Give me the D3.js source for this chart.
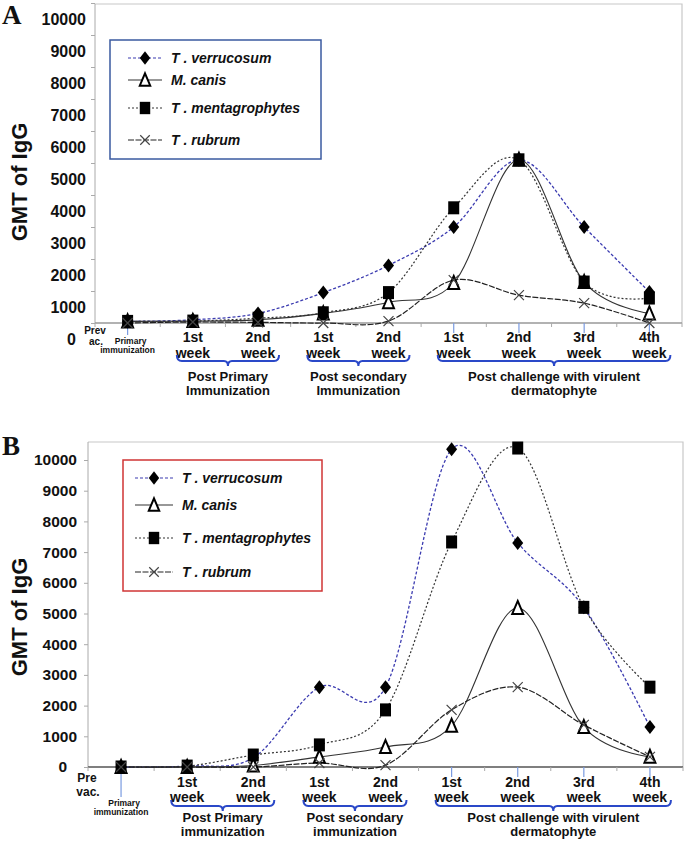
<!DOCTYPE html>
<html><head><meta charset="utf-8">
<script src="https://cdn.jsdelivr.net/npm/d3@7"></script>
<style>
body{margin:0;background:#fff}
svg{display:block}
text{font-weight:bold;fill:#111}
</style>
</head><body><svg id="c" width="685" height="843"></svg>
<script>
// ---------- DATA ----------
const categories = ["Prev vac.","PP 1st week","PP 2nd week","PS 1st week","PS 2nd week","PC 1st week","PC 2nd week","PC 3rd week","PC 4th week"];
const weekLabels = [null,["1st","week"],["2nd","week"],["1st","week"],["2nd","week"],["1st","week"],["2nd","week"],["3rd","week"],["4th","week"]];
const yTickValues = [0,1000,2000,3000,4000,5000,6000,7000,8000,9000,10000];
const seriesNames = ["T . verrucosum","M. canis","T . mentagrophytes","T . rubrum"];
const groupLabels = [
  {from:1,to:2,lines:["Post Primary","Immunization"]},
  {from:3,to:4,lines:["Post secondary","Immunization"]},
  {from:5,to:8,lines:["Post challenge with virulent","dermatophyte"]}
];
const groupLabelsB = [
  {from:1,to:2,lines:["Post Primary","immunization"]},
  {from:3,to:4,lines:["Post secondary","immunization"]},
  {from:5,to:8,lines:["Post challenge with virulent","dermatophyte"]}
];
// Panel A (GMT of IgG)
const verrucosumA     = [50, 100, 300, 950, 1800, 3000, 5100, 3000, 970];
const canisA          = [50, 60, 100, 300, 650, 1250, 5100, 1280, 300];
const mentagrophytesA = [50, 60, 150, 320, 950, 3600, 5100, 1280, 780];
const rubrumA         = [0, 30, 20, 0, 60, 1340, 870, 620, 0];
// Panel B (GMT of IgG)
const verrucosumB     = [0, 30, 300, 2600, 2600, 10350, 7300, 5200, 1300];
const canisB          = [0, 0, 50, 330, 650, 1340, 5180, 1300, 330];
const mentagrophytesB = [0, 30, 390, 720, 1860, 7330, 10390, 5200, 2600];
const rubrumB         = [0, 0, 0, 130, 60, 1860, 2600, 1370, 330];

// ---------- DRAW ----------
const SANS = "'Liberation Sans',Arial,sans-serif";
const svg = d3.select("#c");
const styles = [
  {stroke:"#3b3bb0", dash:"3,2", w:1.3, marker:"diamond"},
  {stroke:"#333", dash:null, w:1.1, marker:"triangle"},
  {stroke:"#333", dash:"2,2", w:1.2, marker:"square"},
  {stroke:"#222", dash:"6,1.5", w:1.2, marker:"x"}
];

function T(g){ return g.append("text").style("font-family",SANS).style("font-weight","bold"); }

function marker(g, type, x, y, s){
  if(type==="diamond"){
    g.append("path").attr("d",`M${x},${y-7*s}L${x+5.5*s},${y}L${x},${y+7*s}L${x-5.5*s},${y}Z`).attr("fill","#000");
  } else if(type==="square"){
    g.append("rect").attr("x",x-5.5*s).attr("y",y-6.5*s).attr("width",11*s).attr("height",13*s).attr("fill","#000");
  } else if(type==="triangle"){
    g.append("path").attr("d",`M${x},${y-7*s}L${x+5.5*s},${y+6*s}L${x-5.5*s},${y+6*s}Z`)
      .attr("fill","#fff").attr("stroke","#000").attr("stroke-width",2);
  } else {
    g.append("path").attr("d",`M${x-5*s},${y-5*s}L${x+5*s},${y+5*s}M${x+5*s},${y-5*s}L${x-5*s},${y+5*s}`)
      .attr("stroke","#444").attr("stroke-width",1.2).attr("fill","none");
  }
}

function drawPanel(cfg){
  const g = svg.append("g");
  const xb = d3.scaleBand().domain(categories).range([cfg.left,cfg.right]).paddingInner(0).paddingOuter(0);
  const x = c => xb(c)+xb.bandwidth()/2;
  const y = d3.scaleLinear().domain([0,10000]).range([cfg.bottom,cfg.y10k]);

  // frame
  g.append("path").attr("d",`M${cfg.left},${cfg.top}H${cfg.right}V${cfg.bottom}`).attr("fill","none").attr("stroke","#c8c8c8").attr("stroke-width",1.2);
  // y axis
  const ya = g.append("g").attr("transform",`translate(${cfg.left},0)`)
    .call(d3.axisLeft(y).tickValues(yTickValues).tickSize(4).tickPadding(cfg.labelGap).tickFormat(d3.format("d")));
  ya.select(".domain").attr("stroke","#aaa").attr("d",`M0,${cfg.top}V${cfg.bottom}`);
  ya.selectAll(".tick line").attr("stroke","#aaa");
  ya.selectAll(".tick text").attr("font-size",cfg.tickFont).style("font-family",SANS)
    .style("font-weight","bold").attr("fill","#111")
    .attr("dy",(d)=> (cfg.labelShift/cfg.tickFont+0.32)+"em")
    .attr("dx",d=> d===0? -10 : 0);
  // x baseline + band boundary ticks
  g.append("line").attr("x1",cfg.left).attr("x2",cfg.right).attr("y1",cfg.bottom).attr("y2",cfg.bottom).attr("stroke",cfg.baseColor).attr("stroke-width",1.3);
  categories.concat(["_end"]).forEach((c,i)=>{
    const xx = i<categories.length ? xb(c) : cfg.right;
    g.append("line").attr("x1",xx).attr("x2",xx).attr("y1",cfg.bottom).attr("y2",cfg.bottom+4).attr("stroke","#aaa");
  });
  // light blue category lines
  [0,5,6,7,8].forEach(i=>{
    g.append("line").attr("x1",x(categories[i])).attr("x2",x(categories[i]))
      .attr("y1",cfg.bottom).attr("y2",cfg.bottom+(i===0?cfg.firstBlue:10)).attr("stroke","#7a9be0").attr("stroke-width",1.2);
  });

  // series
  const data = cfg.series;
  const line = d3.line().x((d,i)=>x(categories[i])).y(d=>y(d)).curve(d3.curveCardinal.tension(0));
  data.forEach((arr,k)=>{
    const st = styles[k];
    g.append("path").attr("d",line(arr)).attr("fill","none").attr("stroke",st.stroke)
      .attr("stroke-width",st.w).attr("stroke-dasharray",st.dash);
  });
  data.forEach((arr,k)=>{
    arr.forEach((v,i)=> marker(g, styles[k].marker, x(categories[i]), y(v), cfg.ms));
  });

  // x labels
  weekLabels.forEach((lab,i)=>{
    if(!lab) return;
    const cx = x(categories[i]);
    T(g).attr("x",cx).attr("y",cfg.wk1).attr("text-anchor","middle").attr("font-size",14).text(lab[0]);
    T(g).attr("x",cx).attr("y",cfg.wk2).attr("text-anchor","middle").attr("font-size",14).text(lab[1]);
  });
  const c0 = x(categories[0]);
  T(g).attr("x",cfg.prevX).attr("y",cfg.prev1).attr("text-anchor","middle").attr("font-size",cfg.prevFont).text(cfg.prevLines[0]);
  T(g).attr("x",cfg.prevX+1).attr("y",cfg.prev2).attr("text-anchor","middle").attr("font-size",cfg.prevFont).text(cfg.prevLines[1]);
  T(g).attr("x",c0+3).attr("y",cfg.prim1).attr("text-anchor","middle").attr("font-size",8.5).text("Primary");
  T(g).attr("x",c0).attr("y",cfg.prim2).attr("text-anchor","middle").attr("font-size",8.5).text("immunization");

  // brackets
  cfg.groups.forEach(gr=>{
    const x0 = x(categories[gr.from])-16, x1 = x(categories[gr.to])+21, xm=(x0+x1)/2, by=cfg.brY;
    g.append("path").attr("d",`M${x0},${by-6}Q${x0},${by} ${x0+5},${by}L${xm-4},${by}Q${xm},${by} ${xm},${by+5}Q${xm},${by} ${xm+4},${by}L${x1-5},${by}Q${x1},${by} ${x1},${by-6}`)
      .attr("fill","none").attr("stroke","#2a48c8").attr("stroke-width",2);
    T(g).attr("x",xm).attr("y",cfg.gt1).attr("text-anchor","middle").attr("font-size",13).text(gr.lines[0]);
    T(g).attr("x",xm).attr("y",cfg.gt2).attr("text-anchor","middle").attr("font-size",13).text(gr.lines[1]);
  });

  // y title
  T(g).attr("transform",`translate(${cfg.titleX},${cfg.titleY}) rotate(-90)`).attr("text-anchor","middle")
    .attr("font-size",22).text("GMT of IgG");
  // panel letter
  g.append("text").attr("x",2).attr("y",cfg.letterY).attr("font-size",27)
    .style("font-family","'Liberation Serif','Times New Roman',serif").style("font-weight","bold").attr("fill","#000").text(cfg.letter);

  // legend
  const L = cfg.legend;
  g.append("rect").attr("x",L.x).attr("y",L.y).attr("width",L.w).attr("height",L.h).attr("fill","#fff").attr("stroke",L.color).attr("stroke-width",1.5);
  seriesNames.forEach((nm,k)=>{
    const st = styles[k], ry = L.rows[k];
    g.append("line").attr("x1",L.lx0).attr("x2",L.lx1).attr("y1",ry).attr("y2",ry).attr("stroke",st.stroke).attr("stroke-width",1.2).attr("stroke-dasharray",st.dash);
    marker(g, st.marker, (L.lx0+L.lx1)/2, ry, 0.95);
    T(g).attr("x",L.tx).attr("y",ry+5).attr("font-size",14).style("font-style","italic").text(nm);
  });
}

drawPanel({
  letter:"A", letterY:24,
  left:95, right:682, top:4, bottom:323, y10k:3, labelShift:16, labelGap:5, tickFont:16,
  baseColor:"#999", firstBlue:12, ms:1,
  series:[verrucosumA, canisA, mentagrophytesA, rubrumA],
  wk1:342, wk2:358, prevX:95, prev1:334, prev2:345, prevFont:10, prevLines:["Prev","ac."],
  prim1:344, prim2:353, brY:361, gt1:381, gt2:395, groups:groupLabels,
  titleX:27, titleY:182,
  legend:{x:110,y:40,w:211,h:119,color:"#3a5aa0",rows:[58,80,108,140],lx0:128,lx1:162,tx:171}
});
drawPanel({
  letter:"B", letterY:455,
  left:88, right:683, top:442, bottom:767, y10k:460, labelShift:0, labelGap:7, tickFont:15.5,
  baseColor:"#555", firstBlue:30, ms:1,
  series:[verrucosumB, canisB, mentagrophytesB, rubrumB],
  wk1:787, wk2:802, prevX:87, prev1:782, prev2:796, prevFont:12, prevLines:["Pre","vac."],
  prim1:806, prim2:815, brY:806, gt1:822, gt2:836, groups:groupLabelsB,
  titleX:27, titleY:617,
  legend:{x:123,y:460,w:199,h:131,color:"#d03535",rows:[478,505,538,572],lx0:135,lx1:173,tx:182}
});
</script>
</body></html>
